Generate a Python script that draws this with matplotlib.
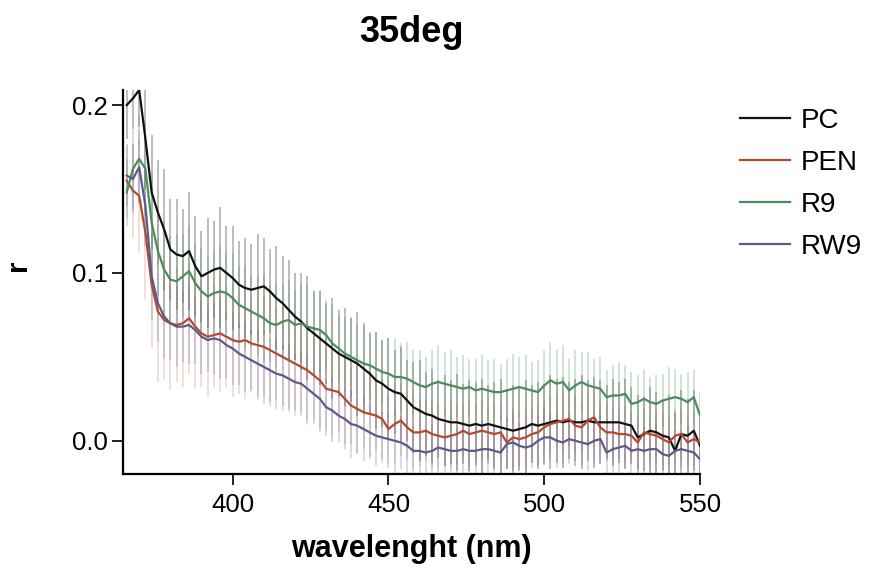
import matplotlib
matplotlib.use("Agg")
import matplotlib.pyplot as plt
import numpy as np

plt.rcParams['font.family'] = ['Liberation Sans', 'DejaVu Sans']

wavelength = list(range(366, 551, 2))

pc = [0.200, 0.204, 0.209, 0.180, 0.148, 0.136, 0.126, 0.114, 0.111, 0.110,
      0.113, 0.104, 0.098, 0.100, 0.102, 0.103, 0.100, 0.097, 0.093, 0.091,
      0.090, 0.091, 0.092, 0.089, 0.085, 0.082, 0.078, 0.074, 0.071, 0.067,
      0.064, 0.061, 0.058, 0.055, 0.052, 0.050, 0.048, 0.046, 0.043, 0.040,
      0.036, 0.034, 0.031, 0.029, 0.028, 0.024, 0.020, 0.018, 0.016, 0.015,
      0.013, 0.012, 0.011, 0.011, 0.010, 0.009, 0.010, 0.009, 0.010, 0.009,
      0.008, 0.007, 0.006, 0.007, 0.008, 0.010, 0.009, 0.010, 0.011, 0.012,
      0.011, 0.012, 0.011, 0.011, 0.012, 0.011, 0.011, 0.011, 0.011, 0.011,
      0.010, 0.009, 0.002, 0.004, 0.006, 0.005, 0.003, 0.002, -0.006, 0.004,
      0.003, 0.006, -0.003]

pen = [0.155, 0.149, 0.146, 0.124, 0.093, 0.077, 0.072, 0.070, 0.069, 0.070,
       0.073, 0.068, 0.064, 0.062, 0.063, 0.064, 0.062, 0.060, 0.059, 0.060,
       0.058, 0.057, 0.056, 0.054, 0.052, 0.050, 0.048, 0.046, 0.044, 0.042,
       0.039, 0.036, 0.031, 0.030, 0.029, 0.025, 0.021, 0.019, 0.017, 0.016,
       0.015, 0.013, 0.007, 0.010, 0.012, 0.008, 0.005, 0.005, 0.006, 0.004,
       0.003, 0.002, 0.003, 0.004, 0.006, 0.004, 0.005, 0.006, 0.005, 0.004,
       0.005, -0.001, 0.002, 0.001, 0.002, 0.004, 0.005, 0.008, 0.010, 0.011,
       0.012, 0.013, 0.009, 0.008, 0.012, 0.014, 0.008, 0.005, 0.005, 0.004,
       0.004, 0.003, -0.001, 0.005, 0.004, 0.003, 0.001, -0.001, 0.003, 0.004,
       -0.001, 0.001, -0.001]

r9 = [0.148, 0.162, 0.168, 0.162, 0.130, 0.113, 0.102, 0.096, 0.095, 0.098,
      0.101, 0.094, 0.089, 0.086, 0.088, 0.089, 0.088, 0.085, 0.081, 0.079,
      0.077, 0.075, 0.073, 0.070, 0.069, 0.071, 0.072, 0.069, 0.070, 0.068,
      0.067, 0.066, 0.063, 0.058, 0.055, 0.052, 0.050, 0.048, 0.046, 0.045,
      0.043, 0.041, 0.040, 0.038, 0.038, 0.037, 0.035, 0.033, 0.032, 0.034,
      0.035, 0.034, 0.033, 0.032, 0.031, 0.032, 0.030, 0.031, 0.030, 0.029,
      0.029, 0.030, 0.031, 0.032, 0.031, 0.030, 0.029, 0.033, 0.036, 0.034,
      0.035, 0.030, 0.033, 0.035, 0.033, 0.032, 0.031, 0.026, 0.027, 0.027,
      0.028, 0.022, 0.023, 0.025, 0.023, 0.022, 0.024, 0.025, 0.026, 0.025,
      0.023, 0.026, 0.015]

rw9 = [0.158, 0.156, 0.163, 0.140, 0.098, 0.082, 0.074, 0.070, 0.068, 0.068,
       0.069, 0.066, 0.062, 0.060, 0.061, 0.060, 0.057, 0.055, 0.052, 0.050,
       0.048, 0.046, 0.044, 0.042, 0.040, 0.039, 0.037, 0.035, 0.034, 0.031,
       0.028, 0.025, 0.020, 0.018, 0.015, 0.013, 0.010, 0.009, 0.007, 0.005,
       0.003, 0.002, 0.001, 0.000, -0.001, -0.003, -0.006, -0.006, -0.007, -0.006,
       -0.004, -0.005, -0.006, -0.006, -0.005, -0.006, -0.006, -0.005, -0.005, -0.006,
       -0.007, -0.002, -0.001, -0.003, -0.004, -0.003, 0.000, 0.002, 0.002, 0.000,
       -0.001, 0.001, 0.000, -0.001, -0.002, 0.000, 0.001, -0.007, -0.005, -0.004,
       -0.003, -0.006, -0.005, -0.006, -0.005, -0.005, -0.008, -0.009, -0.006, -0.005,
       -0.006, -0.007, -0.011]

pc_err = [0.020, 0.018, 0.022, 0.030, 0.034, 0.031, 0.036, 0.030, 0.033, 0.028,
          0.035, 0.030, 0.027, 0.033, 0.029, 0.036, 0.028, 0.031, 0.026, 0.030,
          0.027, 0.032, 0.029, 0.025, 0.031, 0.028, 0.030, 0.026, 0.029, 0.031,
          0.025, 0.028, 0.024, 0.030, 0.026, 0.029, 0.025, 0.031, 0.027, 0.024,
          0.029, 0.026, 0.030, 0.025, 0.028, 0.024, 0.027, 0.030, 0.025, 0.028,
          0.023, 0.027, 0.025, 0.029, 0.024, 0.027, 0.025, 0.028, 0.023, 0.026,
          0.029, 0.024, 0.027, 0.025, 0.028, 0.023, 0.026, 0.024, 0.028, 0.025,
          0.027, 0.023, 0.026, 0.028, 0.024, 0.027, 0.025, 0.022, 0.026, 0.024,
          0.027, 0.023, 0.025, 0.022, 0.026, 0.024, 0.021, 0.025, 0.023, 0.026,
          0.022, 0.024, 0.021]

pen_err = [0.022, 0.028, 0.034, 0.040, 0.038, 0.042, 0.036, 0.040, 0.034, 0.038,
           0.033, 0.037, 0.032, 0.036, 0.031, 0.035, 0.030, 0.034, 0.031, 0.035,
           0.029, 0.033, 0.030, 0.034, 0.028, 0.032, 0.029, 0.031, 0.027, 0.030,
           0.026, 0.029, 0.025, 0.028, 0.024, 0.027, 0.023, 0.026, 0.022, 0.025,
           0.021, 0.024, 0.020, 0.023, 0.021, 0.019, 0.022, 0.020, 0.018, 0.021,
           0.019, 0.017, 0.020, 0.018, 0.016, 0.019, 0.017, 0.018, 0.016, 0.019,
           0.017, 0.015, 0.018, 0.016, 0.017, 0.015, 0.018, 0.016, 0.017, 0.015,
           0.018, 0.016, 0.017, 0.015, 0.016, 0.018, 0.015, 0.017, 0.016, 0.014,
           0.017, 0.015, 0.016, 0.014, 0.017, 0.015, 0.016, 0.014, 0.016, 0.015,
           0.014, 0.016, 0.015]

r9_err = [0.020, 0.024, 0.026, 0.028, 0.030, 0.027, 0.029, 0.026, 0.028, 0.025,
          0.027, 0.024, 0.026, 0.023, 0.025, 0.027, 0.024, 0.026, 0.023, 0.025,
          0.022, 0.024, 0.026, 0.023, 0.025, 0.022, 0.024, 0.021, 0.023, 0.025,
          0.022, 0.024, 0.021, 0.023, 0.020, 0.022, 0.024, 0.021, 0.023, 0.020,
          0.022, 0.019, 0.021, 0.023, 0.020, 0.022, 0.019, 0.021, 0.018, 0.020,
          0.022, 0.019, 0.021, 0.018, 0.020, 0.017, 0.019, 0.021, 0.018, 0.020,
          0.017, 0.019, 0.021, 0.018, 0.020, 0.017, 0.019, 0.021, 0.023, 0.020,
          0.022, 0.019, 0.021, 0.018, 0.020, 0.017, 0.019, 0.016, 0.018, 0.020,
          0.017, 0.019, 0.016, 0.018, 0.015, 0.017, 0.016, 0.019, 0.017, 0.015,
          0.018, 0.016, 0.014]

rw9_err = [0.018, 0.020, 0.022, 0.024, 0.026, 0.023, 0.025, 0.022, 0.024, 0.021,
           0.023, 0.020, 0.022, 0.019, 0.021, 0.023, 0.020, 0.022, 0.019, 0.021,
           0.018, 0.020, 0.022, 0.019, 0.021, 0.018, 0.020, 0.017, 0.019, 0.021,
           0.018, 0.020, 0.017, 0.019, 0.016, 0.018, 0.020, 0.017, 0.019, 0.016,
           0.018, 0.015, 0.017, 0.019, 0.016, 0.018, 0.015, 0.017, 0.014, 0.016,
           0.018, 0.015, 0.017, 0.014, 0.016, 0.013, 0.015, 0.017, 0.014, 0.016,
           0.013, 0.015, 0.017, 0.014, 0.016, 0.013, 0.015, 0.017, 0.014, 0.016,
           0.013, 0.015, 0.012, 0.014, 0.016, 0.013, 0.015, 0.012, 0.014, 0.016,
           0.013, 0.015, 0.012, 0.014, 0.013, 0.015, 0.012, 0.014, 0.013, 0.011,
           0.014, 0.012, 0.013]

series_names = ["PC", "PEN", "R9", "RW9"]
series_vals = [pc, pen, r9, rw9]
series_errs = [pc_err, pen_err, r9_err, rw9_err]
colors = ["#111111", "#b34a30", "#4a8c5c", "#5b5a8c"]
bar_alpha = [0.28, 0.18, 0.25, 0.22]

x_ticks = [400, 450, 500, 550]
y_ticks = [0.0, 0.1, 0.2]
y_ticklabels = ["0.0", "0.1", "0.2"]

fig = plt.figure(figsize=(8.8, 5.72), dpi=100)
ax = fig.add_axes([0.1401, 0.1713, 0.6554, 0.6714])

x = np.array(wavelength)
for vals, errs, c, a in zip(series_vals, series_errs, colors, bar_alpha):
    v = np.array(vals)
    e = np.array(errs)
    ax.vlines(x, v - e, v + e, colors=c, alpha=a, linewidth=1.4, zorder=1)
handles = []
for name, vals, c in zip(series_names, series_vals, colors):
    h, = ax.plot(x, vals, color=c, linewidth=1.6, label=name, zorder=3)
    handles.append(h)

ax.set_xlim(364.9, 550)
ax.set_ylim(-0.0198, 0.209)
ax.set_xticks(x_ticks)
ax.set_yticks(y_ticks)
ax.set_yticklabels(y_ticklabels)
for s in ["top", "right"]:
    ax.spines[s].set_visible(False)
for s in ["left", "bottom"]:
    ax.spines[s].set_linewidth(1.6)
ax.tick_params(axis="both", direction="out", length=8, width=1.4,
               labelsize=18.5, color="#222222")
ax.tick_params(axis="x", pad=6)
ax.tick_params(axis="y", pad=3)

ax.set_xlabel("wavelenght (nm)", fontsize=22, fontweight="bold", labelpad=12)
fig.text(18 / 880, 1 - 265 / 572, "r", rotation=90, fontsize=21,
         fontweight="bold", ha="center", va="center")
fig.text(411.5 / 880, 1 - 32 / 572, "35deg", fontsize=26, fontweight="bold",
         ha="center", va="center")

leg = fig.legend(handles=handles, labels=series_names, loc="upper left",
                 bbox_to_anchor=(0.841, 0.8115), frameon=False, fontsize=20,
                 handlelength=1.8, handletextpad=0.4, labelspacing=0.58,
                 borderpad=0, borderaxespad=0)

fig.savefig("out.png", dpi=100)
